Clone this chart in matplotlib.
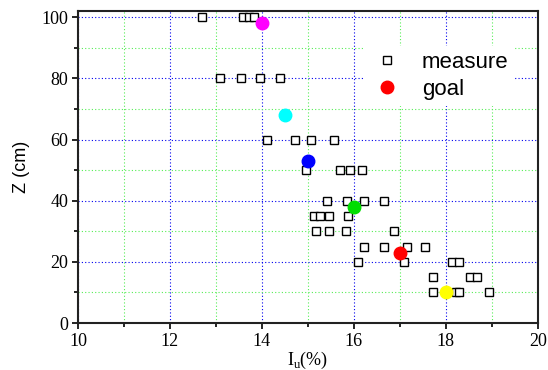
import matplotlib
matplotlib.use('Agg')
import matplotlib.pyplot as plt
from matplotlib.ticker import MultipleLocator

plt.rcParams['mathtext.fontset'] = 'custom'
plt.rcParams['mathtext.rm'] = 'Liberation Serif'

# measured points, row by row (Z in cm)
meas_x = [12.7, 13.6, 13.71, 13.82,
          13.08, 13.55, 13.95, 14.39,
          14.12, 14.72, 15.06, 15.56,
          14.95, 15.69, 15.91, 16.18,
          15.42, 15.86, 16.22, 16.66,
          15.14, 15.26, 15.46, 15.87,
          15.17, 15.45, 15.82, 16.87,
          16.22, 16.65, 17.16, 17.54,
          16.08, 17.1, 18.14, 18.28,
          17.73, 18.52, 18.68,
          17.73, 18.22, 18.28, 18.95]
meas_z = [100, 100, 100, 100,
          80, 80, 80, 80,
          60, 60, 60, 60,
          50, 50, 50, 50,
          40, 40, 40, 40,
          35, 35, 35, 35,
          30, 30, 30, 30,
          25, 25, 25, 25,
          20, 20, 20, 20,
          15, 15, 15,
          10, 10, 10, 10]

goal_x = [14.0, 14.5, 15.0, 16.0, 17.0, 18.0]
goal_z = [98, 68, 53, 38, 23, 10]
goal_colors = ['#ff00ff', '#00ffff', '#0000ff', '#00dd00', '#ff0000', '#ffff00']

fig = plt.figure(figsize=(5.48, 3.70), dpi=100)
ax = fig.add_axes([0.1423, 0.127, 0.839, 0.843])

ax.set_xlim(10, 20)
ax.set_ylim(0, 102)
ax.xaxis.set_major_locator(MultipleLocator(2))
ax.xaxis.set_minor_locator(MultipleLocator(1))
ax.yaxis.set_major_locator(MultipleLocator(20))
ax.yaxis.set_minor_locator(MultipleLocator(10))

ax.grid(which='major', color='#0000ee', linestyle=(0, (1, 2)), lw=0.8)
ax.grid(which='minor', color='#55ee55', linestyle=(0, (1, 2)), lw=0.8)
ax.set_axisbelow(True)

ax.plot(meas_x, meas_z, 's', ms=6, mfc='white', mec='black', mew=1.0,
        ls='none', label='measure', zorder=3)
for gx, gz, c in zip(goal_x, goal_z, goal_colors):
    ax.plot(gx, gz, 'o', ms=9, color=c, zorder=4)
ax.plot([], [], 'o', ms=9, color='#ff0000', label='goal')

for s in ax.spines.values():
    s.set_linewidth(1.5)
    s.set_color('#222222')

ax.tick_params(which='major', direction='out', length=4, width=1.2,
               top=False, right=False, pad=3)
ax.tick_params(which='minor', direction='out', length=3, width=1.2,
               top=False, right=False)
for lab in ax.get_xticklabels() + ax.get_yticklabels():
    lab.set_family('Liberation Serif')
    lab.set_fontsize(13)

ax.set_ylabel('Z (cm)', family='Liberation Sans', fontsize=13, labelpad=8)
ax.set_xlabel(r'I$_\mathrm{u}$(%)', family='Liberation Serif', fontsize=13,
              labelpad=0)

leg = ax.legend(loc='upper right', bbox_to_anchor=(0.975, 0.925),
                prop={'family': 'Liberation Sans', 'size': 16},
                frameon=True, fancybox=False, framealpha=1,
                handletextpad=0.8, borderpad=0.3, labelspacing=0.25,
                handlelength=1.5)
leg.get_frame().set_edgecolor('none')
leg.get_frame().set_facecolor('white')

fig.savefig('out.png', dpi=100)
